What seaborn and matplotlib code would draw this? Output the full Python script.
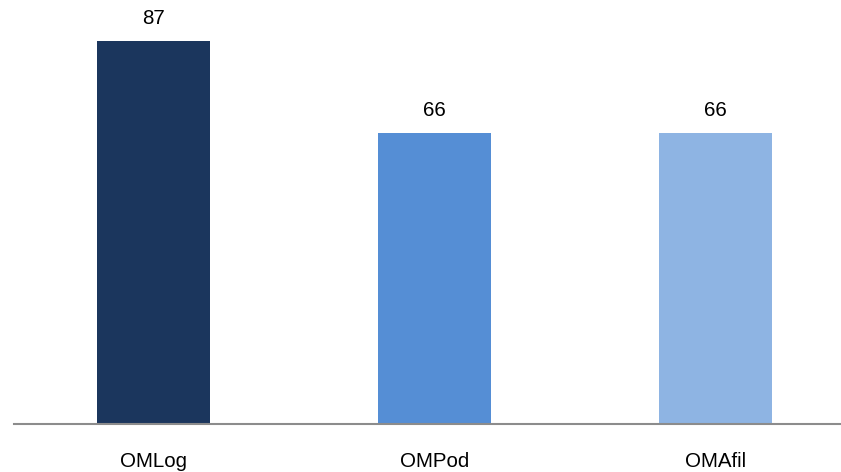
import matplotlib
matplotlib.use("Agg")
import matplotlib.pyplot as plt
import seaborn as sns
import pandas as pd

categories = ["OMLog", "OMPod", "OMAfil"]
values = [87, 66, 66]
bar_colors = ["#1B365D", "#558ED5", "#8EB4E3"]

sns.set_theme(style="white")
plt.rcParams["font.family"] = ["Liberation Sans", "DejaVu Sans"]

df = pd.DataFrame({"category": categories, "value": values})

fig = plt.figure(figsize=(8.41, 4.72), dpi=100)
ax = fig.add_axes([14 / 841, 48 / 472, 827 / 841, 424 / 472])

sns.barplot(data=df, x="category", y="value", hue="category",
            palette=bar_colors, width=0.40, legend=False, ax=ax,
            saturation=1, linewidth=0)

ax.set_xlim(-0.496, 2.447)
ax.set_ylim(0, 96.3)
ax.set_xlabel("")
ax.set_ylabel("")
ax.set_yticks([])
for side in ["top", "right", "left"]:
    ax.spines[side].set_visible(False)
ax.spines["bottom"].set_color("#8C8C8C")
ax.spines["bottom"].set_linewidth(1.5)
ax.tick_params(axis="x", length=0, pad=20, labelsize=14.8, labelcolor="black")

for i, v in enumerate(values):
    ax.annotate(f"{v}", xy=(i, v), xytext=(0, 17), textcoords="offset pixels",
                ha="center", va="baseline", fontsize=14.8, color="black")

fig.savefig("out.png", dpi=100)
